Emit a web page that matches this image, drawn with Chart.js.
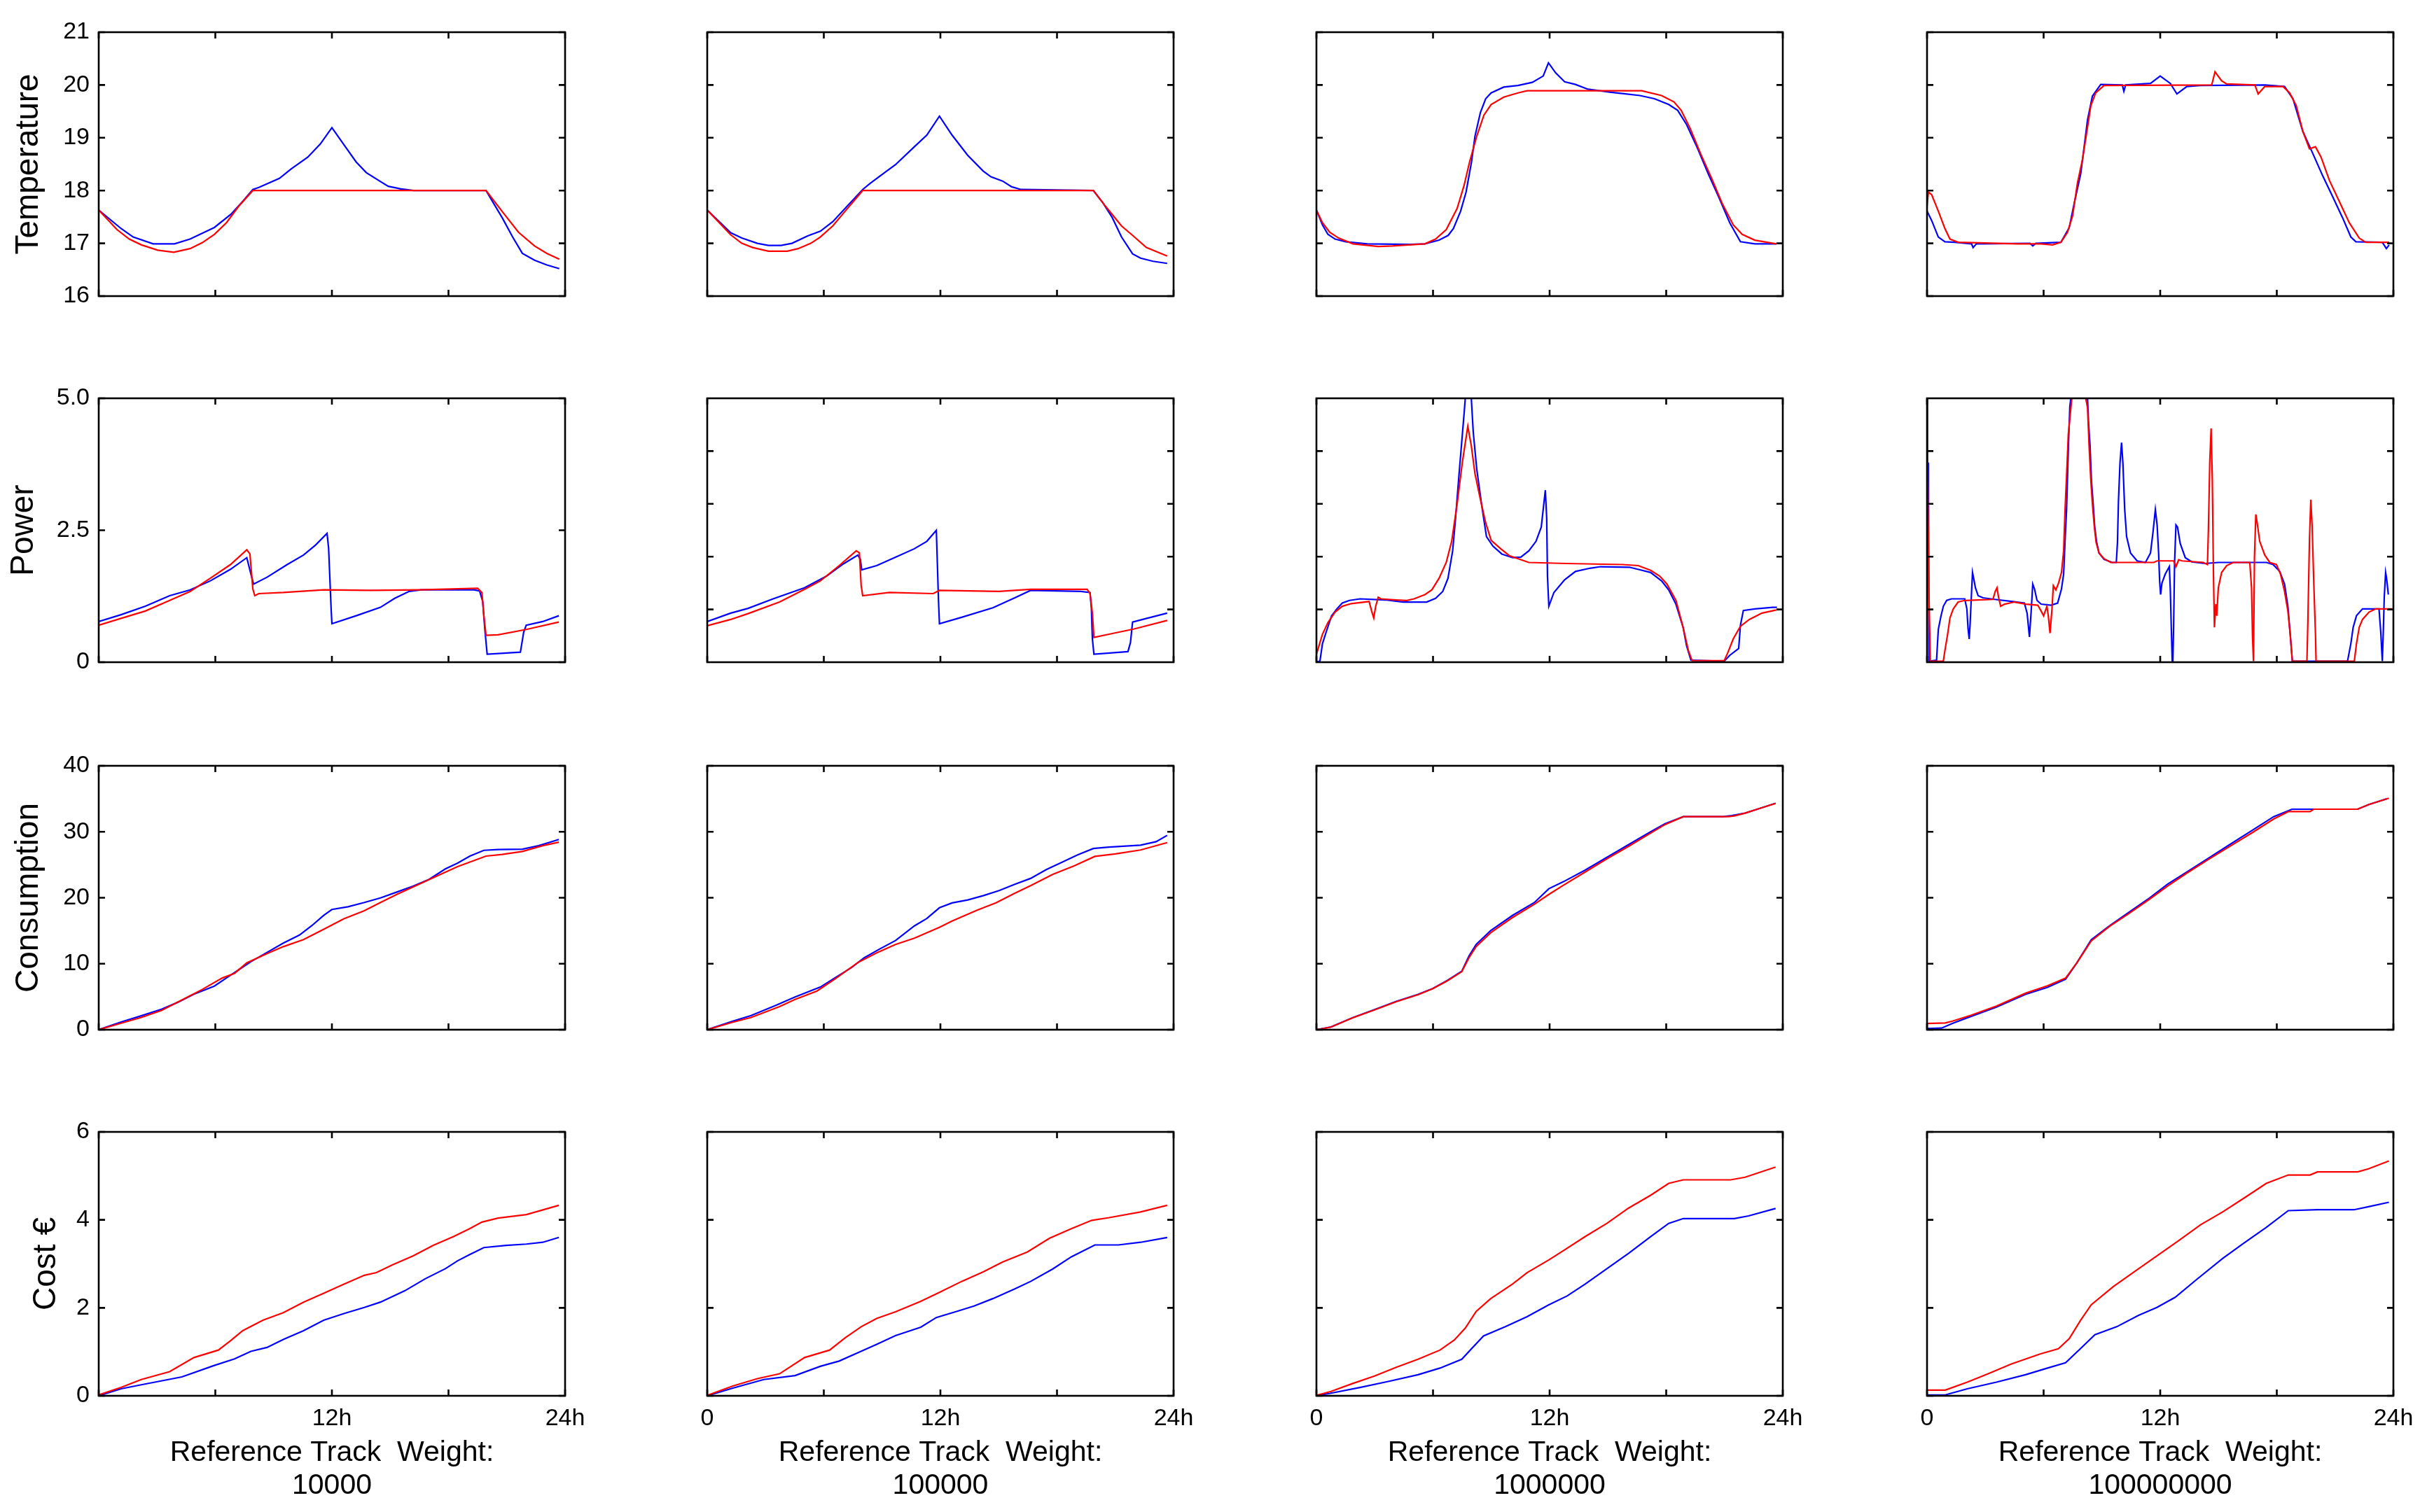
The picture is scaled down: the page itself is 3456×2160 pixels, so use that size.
<!DOCTYPE html>
<html>
<head>
<meta charset="utf-8">
<script src="https://cdn.jsdelivr.net/npm/chart.js@4/dist/chart.umd.min.js"></script>
<style>
  html, body { margin: 0; padding: 0; background: #fff; overflow: hidden; }
  body { width: 3456px; height: 2160px; position: relative; }
  canvas { position: absolute; }
</style>
</head>
<body>
<script>
// ---------------- DATA (time in hours, value) ----------------
const weightLabels = ['10000', '100000', '1000000', '100000000'];
const rowTitles = ['Temperature', 'Power', 'Consumption', 'Cost €'];
const hourTicks = [0, 6, 12, 18, 24];
const hourLabelValues = [0, 12, 24];
const hourLabelTexts = ['0', '12h', '24h'];

const tempLabelValues = [16, 17, 18, 19, 20, 21];
const tempLabelTexts = ['16', '17', '18', '19', '20', '21'];
const powerLabelValues = [0, 2.5, 5];
const powerLabelTexts = ['0', '2.5', '5.0'];
const powerMinorTicks = [1, 2, 3, 4];
const consLabelValues = [0, 10, 20, 30, 40];
const consLabelTexts = ['0', '10', '20', '30', '40'];
const costLabelValues = [0, 2, 4, 6];
const costLabelTexts = ['0', '2', '4', '6'];

// Temperature
const tempW1Blue = [[0,17.63],[1.15,17.28],[1.77,17.12],[2.8,16.99],[3.9,16.99],[4.7,17.08],[5.95,17.3],[6.8,17.55],[7.4,17.79],[7.93,18.02],[8.24,18.06],[9.3,18.23],[9.9,18.41],[10.75,18.63],[11.4,18.88],[12.0,19.19],[12.73,18.81],[13.25,18.54],[13.77,18.34],[14.5,18.17],[14.9,18.08],[15.55,18.03],[16.2,18.0],[19.93,18.0],[20.77,17.48],[21.3,17.12],[21.8,16.81],[22.43,16.68],[23.06,16.59],[23.7,16.52]];
const tempW1Red = [[0,17.63],[0.94,17.26],[1.57,17.08],[2.2,16.97],[3.03,16.87],[3.86,16.83],[4.7,16.9],[5.32,17.01],[5.95,17.17],[6.57,17.39],[7.2,17.7],[7.93,18.0],[19.93,18.0],[20.77,17.6],[21.6,17.21],[22.43,16.95],[23.06,16.81],[23.7,16.7]];
const tempW2Blue = [[0,17.63],[1.21,17.2],[1.78,17.1],[2.58,17.0],[3.15,16.96],[3.8,16.96],[4.36,17.0],[5.17,17.14],[5.82,17.23],[6.46,17.41],[7.27,17.73],[8.0,18.02],[8.4,18.14],[9.2,18.36],[9.69,18.49],[10.66,18.83],[11.3,19.05],[11.95,19.41],[12.6,19.05],[13.4,18.67],[14.2,18.37],[14.6,18.26],[15.2,18.18],[15.67,18.07],[16.15,18.02],[19.87,18.0],[20.36,17.77],[20.84,17.49],[21.32,17.12],[21.89,16.8],[22.3,16.72],[22.94,16.66],[23.67,16.62]];
const tempW2Red = [[0,17.63],[1.21,17.16],[1.78,17.0],[2.34,16.92],[3.15,16.85],[4.12,16.85],[4.68,16.9],[5.33,17.0],[5.82,17.12],[6.46,17.33],[7.1,17.61],[8.0,18.0],[19.87,18.0],[20.5,17.7],[21.32,17.33],[21.89,17.15],[22.6,16.92],[23.67,16.76]];
const tempW3Blue = [[0,17.63],[0.31,17.35],[0.59,17.17],[0.96,17.08],[1.51,17.03],[2.62,16.99],[4.84,16.98],[5.58,16.99],[6.31,17.06],[6.78,17.15],[7.05,17.28],[7.42,17.61],[7.7,17.97],[7.98,18.54],[8.16,19.03],[8.44,19.48],[8.71,19.74],[8.99,19.85],[9.64,19.96],[10.37,19.99],[11.11,20.05],[11.67,20.17],[11.94,20.42],[12.31,20.23],[12.77,20.06],[13.33,20.01],[13.97,19.92],[15.17,19.86],[15.91,19.83],[16.65,19.8],[17.39,19.74],[18.13,19.63],[18.59,19.52],[19.05,19.25],[19.6,18.81],[20.16,18.32],[20.7,17.88],[21.27,17.39],[21.82,17.03],[22.56,16.99],[23.67,16.99]];
const tempW3Red = [[0,17.63],[0.31,17.39],[0.68,17.21],[1.14,17.1],[1.88,16.99],[3.18,16.94],[3.91,16.95],[5.58,16.99],[6.13,17.08],[6.68,17.26],[7.24,17.66],[7.6,18.1],[7.88,18.54],[8.25,19.03],[8.62,19.43],[8.99,19.63],[9.64,19.77],[10.37,19.85],[10.84,19.89],[16.74,19.89],[17.76,19.8],[18.4,19.68],[18.77,19.52],[19.24,19.17],[19.79,18.68],[20.34,18.23],[20.9,17.74],[21.45,17.35],[21.91,17.17],[22.56,17.06],[23.67,16.99]];
const tempW4Blue = [[0,17.61],[0.24,17.43],[0.58,17.12],[0.92,17.03],[1.43,17.02],[2.29,16.99],[2.37,16.92],[2.54,16.99],[5.3,17.0],[5.44,16.95],[5.6,17.0],[6.89,17.02],[7.32,17.3],[7.57,17.75],[7.91,18.32],[8.26,19.34],[8.51,19.79],[8.94,20.01],[10.05,20.0],[10.13,19.88],[10.22,20.0],[11.5,20.03],[12.0,20.17],[12.52,20.03],[12.86,19.83],[13.37,19.97],[14.05,19.99],[17.38,20.0],[18.4,19.97],[18.83,19.74],[19.34,19.12],[19.77,18.77],[20.36,18.28],[20.88,17.88],[21.39,17.48],[21.81,17.12],[22.07,17.03],[23.43,17.02],[23.64,16.9],[23.78,16.97]];
const tempW4Red = [[0,17.7],[0.07,17.97],[0.24,17.92],[0.58,17.61],[0.92,17.28],[1.18,17.08],[1.6,17.02],[4.67,16.99],[5.87,16.99],[6.46,16.97],[6.89,17.02],[7.23,17.21],[7.49,17.52],[7.74,18.14],[8.0,18.59],[8.17,18.99],[8.43,19.61],[8.68,19.85],[9.11,19.99],[14.65,20.0],[14.82,20.25],[15.16,20.08],[15.42,20.02],[16.87,20.0],[17.04,19.83],[17.38,19.97],[18.32,19.97],[18.66,19.85],[19.0,19.61],[19.34,19.12],[19.68,18.79],[19.99,18.83],[20.28,18.63],[20.71,18.19],[21.22,17.79],[21.73,17.39],[22.24,17.1],[22.58,17.02],[23.78,17.02]];

// Power
const powerW1Blue = [[0,0.77],[1.15,0.9],[2.4,1.06],[3.65,1.26],[4.7,1.37],[5.74,1.54],[6.78,1.76],[7.62,1.98],[7.83,1.67],[7.97,1.48],[8.66,1.61],[9.7,1.85],[10.54,2.03],[11.16,2.22],[11.75,2.44],[11.83,2.16],[11.96,1.01],[12.0,0.73],[13.25,0.88],[14.5,1.04],[15.23,1.21],[15.96,1.34],[16.59,1.37],[19.3,1.37],[19.6,1.35],[19.76,1.15],[19.87,0.62],[19.99,0.15],[21.7,0.19],[21.87,0.57],[22.0,0.7],[22.85,0.77],[23.68,0.88]];
const powerW1Red = [[0,0.7],[1.15,0.83],[2.4,0.97],[3.65,1.17],[4.7,1.34],[5.74,1.59],[6.78,1.85],[7.62,2.13],[7.78,2.05],[7.93,1.39],[8.03,1.26],[8.24,1.3],[9.5,1.32],[11.58,1.37],[14.0,1.36],[16.5,1.37],[19.5,1.4],[19.72,1.32],[19.82,0.88],[19.93,0.51],[20.55,0.52],[22.0,0.62],[23.68,0.76]];
const powerW2Blue = [[0,0.77],[1.21,0.93],[2.1,1.02],[3.39,1.2],[5.0,1.41],[6.14,1.63],[6.95,1.85],[7.75,2.03],[7.88,1.95],[7.95,1.75],[8.72,1.83],[9.69,1.99],[10.66,2.15],[11.3,2.29],[11.79,2.5],[11.83,2.03],[11.9,1.18],[11.95,0.73],[13.09,0.85],[14.7,1.03],[15.83,1.22],[16.64,1.36],[19.22,1.34],[19.7,1.32],[19.77,1.02],[19.82,0.45],[19.9,0.15],[21.65,0.2],[21.78,0.37],[21.89,0.76],[22.62,0.83],[23.67,0.93]];
const powerW2Red = [[0,0.69],[1.21,0.81],[2.1,0.92],[3.72,1.14],[5.0,1.38],[5.82,1.54],[6.79,1.83],[7.67,2.11],[7.83,2.07],[7.92,1.46],[8.0,1.26],[9.37,1.32],[11.63,1.3],[11.95,1.36],[15.0,1.34],[16.64,1.38],[19.55,1.38],[19.7,1.3],[19.82,0.93],[19.9,0.47],[20.68,0.53],[21.97,0.63],[23.67,0.79]];
const powerW3Blue = [[0,0.01],[0.18,0.02],[0.31,0.35],[0.5,0.57],[0.78,0.88],[1.05,1.01],[1.33,1.12],[1.7,1.17],[2.25,1.2],[3.54,1.18],[4.47,1.14],[5.67,1.14],[6.13,1.21],[6.5,1.34],[6.77,1.59],[7.01,2.11],[7.14,2.64],[7.33,3.52],[7.61,4.76],[7.66,5.0],[7.97,5.0],[8.07,4.36],[8.25,3.66],[8.53,2.91],[8.75,2.38],[9.08,2.2],[9.54,2.05],[10.1,1.98],[10.52,1.99],[10.93,2.11],[11.3,2.29],[11.57,2.56],[11.78,3.26],[11.85,2.73],[11.89,1.63],[11.96,1.06],[12.22,1.32],[12.77,1.56],[13.33,1.72],[14.07,1.78],[14.62,1.81],[16.1,1.8],[16.65,1.75],[17.2,1.7],[17.76,1.54],[18.13,1.37],[18.5,1.1],[18.87,0.66],[19.05,0.31],[19.27,0.04],[20.99,0.02],[21.27,0.13],[21.73,0.26],[21.82,0.7],[21.97,0.98],[22.56,1.01],[23.48,1.04],[23.7,1.04]];
const powerW3Red = [[0,0.15],[0.13,0.31],[0.31,0.53],[0.59,0.75],[0.96,0.95],[1.33,1.06],[1.79,1.11],[2.71,1.15],[2.84,0.97],[2.95,0.84],[3.05,1.06],[3.18,1.23],[3.32,1.2],[4.1,1.18],[4.65,1.17],[5.02,1.2],[5.58,1.28],[5.94,1.37],[6.31,1.59],[6.68,1.89],[6.96,2.29],[7.24,3.0],[7.51,3.79],[7.79,4.47],[7.97,4.1],[8.16,3.57],[8.44,3.08],[8.71,2.64],[8.99,2.31],[9.45,2.16],[9.92,2.02],[10.93,1.89],[12.87,1.87],[15.73,1.85],[16.56,1.83],[17.2,1.74],[17.67,1.63],[18.04,1.48],[18.5,1.17],[18.87,0.66],[19.14,0.22],[19.33,0.03],[20.99,0.03],[21.17,0.18],[21.45,0.44],[21.82,0.68],[22.28,0.81],[22.93,0.93],[23.67,0.99]];
const powerW4Blue = [[0,3.77],[0.07,3.77],[0.1,0.02],[0.49,0.04],[0.58,0.62],[0.72,0.88],[0.84,1.06],[1.01,1.17],[1.26,1.2],[1.94,1.2],[2.05,1.01],[2.11,0.64],[2.17,0.44],[2.22,0.75],[2.29,1.32],[2.34,1.7],[2.4,1.59],[2.49,1.41],[2.63,1.26],[2.88,1.22],[3.48,1.19],[4.42,1.15],[5.01,1.12],[5.15,0.93],[5.27,0.48],[5.36,0.97],[5.44,1.48],[5.53,1.39],[5.66,1.17],[5.87,1.1],[6.38,1.08],[6.72,1.12],[6.92,1.39],[7.03,1.67],[7.1,2.27],[7.18,2.89],[7.23,3.52],[7.28,4.14],[7.35,4.85],[7.4,5.0],[8.26,5.0],[8.31,4.54],[8.39,4.1],[8.46,3.44],[8.55,3.0],[8.63,2.56],[8.73,2.27],[8.85,2.07],[9.11,1.95],[9.53,1.89],[9.74,1.89],[9.8,2.27],[9.85,3.04],[9.93,3.77],[10.01,4.16],[10.08,3.77],[10.17,2.91],[10.27,2.38],[10.47,2.07],[10.81,1.92],[11.24,1.89],[11.5,2.07],[11.63,2.47],[11.75,2.89],[11.84,2.6],[11.92,2.05],[11.97,1.54],[12.02,1.28],[12.09,1.5],[12.26,1.67],[12.47,1.81],[12.52,1.37],[12.57,0.66],[12.62,0.0],[12.65,0.0],[12.69,0.7],[12.74,1.89],[12.81,2.6],[12.89,2.56],[13.03,2.25],[13.29,1.98],[13.63,1.9],[14.31,1.87],[14.99,1.89],[17.47,1.89],[17.81,1.85],[18.15,1.72],[18.4,1.48],[18.57,1.06],[18.69,0.53],[18.8,0.02],[21.64,0.02],[21.81,0.35],[21.93,0.66],[22.1,0.88],[22.41,1.01],[23.26,1.01],[23.35,0.57],[23.43,0.02],[23.48,0.57],[23.53,1.23],[23.6,1.7],[23.65,1.59],[23.74,1.28]];
const powerW4Red = [[0,5.0],[0.03,3.77],[0.1,1.26],[0.17,0.02],[0.84,0.02],[0.92,0.22],[1.06,0.53],[1.18,0.84],[1.35,1.01],[1.6,1.14],[1.94,1.17],[3.39,1.19],[3.51,1.34],[3.6,1.41],[3.68,1.23],[3.79,1.06],[3.99,1.1],[4.5,1.14],[5.1,1.1],[5.7,1.08],[5.87,0.97],[6.0,0.88],[6.17,1.06],[6.24,0.88],[6.33,0.55],[6.43,1.01],[6.5,1.45],[6.63,1.37],[6.77,1.5],[6.92,1.7],[7.03,2.11],[7.1,2.86],[7.18,3.52],[7.27,4.32],[7.45,5.0],[8.17,5.0],[8.26,4.82],[8.34,4.1],[8.43,3.44],[8.51,3.0],[8.6,2.6],[8.7,2.27],[8.85,2.07],[9.11,1.96],[9.45,1.89],[11.67,1.89],[11.84,1.92],[12.69,1.92],[12.81,1.81],[12.95,1.94],[13.12,1.92],[14.22,1.89],[14.43,1.85],[14.48,2.51],[14.55,3.79],[14.62,4.43],[14.68,3.48],[14.74,1.67],[14.79,0.66],[14.86,1.1],[14.91,0.88],[14.99,1.41],[15.16,1.7],[15.42,1.83],[15.76,1.89],[16.61,1.89],[16.7,1.41],[16.75,0.48],[16.8,0.02],[16.85,1.98],[16.92,2.8],[16.99,2.64],[17.12,2.29],[17.38,2.03],[17.64,1.89],[17.98,1.85],[18.19,1.67],[18.4,1.34],[18.57,0.97],[18.69,0.53],[18.8,0.02],[19.55,0.02],[19.6,0.79],[19.68,2.31],[19.75,3.08],[19.82,2.56],[19.9,1.54],[19.99,0.53],[20.02,0.02],[21.99,0.02],[22.1,0.35],[22.24,0.66],[22.41,0.81],[22.75,0.95],[23.1,1.01],[23.95,1.01]];

// Consumption
const consW1Blue = [[0,0],[1.15,1.16],[2.19,2.11],[3.23,3.1],[4.07,4.15],[4.9,5.38],[5.95,6.61],[6.57,7.84],[7.2,9.07],[7.83,10.31],[8.66,11.71],[9.5,13.12],[10.33,14.35],[10.96,15.76],[11.58,17.34],[12.0,18.22],[12.83,18.64],[13.67,19.28],[14.5,19.98],[15.34,20.86],[16.17,21.74],[17.0,22.79],[17.84,24.38],[18.47,25.26],[19.1,26.31],[19.82,27.19],[20.55,27.3],[21.8,27.37],[22.64,27.89],[23.68,28.84]];
const consW1Red = [[0,0],[1.15,0.98],[2.19,1.86],[3.23,2.92],[4.28,4.5],[5.32,6.09],[6.36,7.84],[6.99,8.55],[7.62,10.13],[8.66,11.54],[9.5,12.59],[10.54,13.65],[11.58,15.23],[12.62,16.81],[13.67,18.04],[14.5,19.28],[15.34,20.51],[16.38,21.91],[17.42,23.32],[18.47,24.73],[19.93,26.31],[20.76,26.56],[21.8,27.01],[22.85,27.89],[23.68,28.42]];
const consW2Blue = [[0,0],[1.29,1.26],[2.26,2.15],[3.55,3.71],[4.52,4.97],[5.82,6.46],[6.62,7.94],[7.43,9.42],[8.08,10.91],[8.88,12.24],[9.69,13.51],[10.66,15.73],[11.3,16.85],[11.95,18.48],[12.6,19.22],[13.41,19.67],[14.22,20.33],[15.02,21.08],[15.83,22.04],[16.64,22.93],[17.45,24.27],[18.26,25.38],[19.06,26.49],[19.87,27.46],[20.68,27.68],[22.3,27.98],[23.1,28.5],[23.67,29.46]];
const consW2Red = [[0,0],[1.29,1.11],[2.26,1.86],[3.72,3.49],[4.52,4.6],[5.65,5.86],[6.62,7.79],[7.75,10.17],[8.72,11.65],[9.69,12.91],[10.66,13.88],[11.95,15.51],[12.6,16.47],[13.89,18.11],[14.86,19.22],[15.83,20.7],[16.64,21.82],[17.77,23.53],[18.9,24.86],[19.95,26.27],[21.0,26.64],[22.3,27.24],[23.67,28.35]];
const consW3Blue = [[0,0],[0.75,0.42],[1.87,1.83],[2.99,3.06],[4.11,4.3],[5.23,5.35],[5.98,6.23],[6.73,7.46],[7.48,8.87],[7.85,11.16],[8.22,12.92],[8.97,15.04],[10.09,17.32],[11.21,19.26],[11.96,21.37],[12.71,22.43],[13.83,24.19],[14.95,26.13],[16.07,28.06],[17.2,30.0],[17.94,31.23],[18.88,32.29],[20.93,32.29],[21.38,32.46],[22.06,32.82],[22.8,33.52],[23.63,34.33]];
const consW3Red = [[0,0],[0.75,0.4],[1.87,1.8],[2.99,3.0],[4.11,4.25],[5.23,5.3],[5.98,6.2],[6.73,7.4],[7.48,8.8],[7.85,10.9],[8.22,12.6],[8.97,14.7],[10.09,17.0],[11.21,19.0],[11.96,20.5],[12.71,21.9],[13.83,23.9],[14.95,25.9],[16.07,27.8],[17.2,29.8],[17.94,31.1],[18.88,32.29],[21.2,32.29],[21.5,32.4],[22.06,32.82],[22.8,33.52],[23.63,34.3]];
const consW4Blue = [[0,0.18],[0.75,0.25],[1.31,0.95],[2.25,2.0],[3.57,3.42],[5.07,5.35],[6.2,6.41],[7.13,7.64],[7.7,10.1],[8.45,13.63],[9.39,15.74],[10.33,17.68],[11.45,19.96],[12.39,22.08],[13.33,23.84],[14.46,25.95],[15.58,28.06],[16.71,30.18],[17.84,32.29],[18.78,33.42],[22.16,33.42],[22.72,34.12],[23.66,35.0]];
const consW4Red = [[0,0.95],[0.94,1.02],[1.31,1.3],[2.25,2.18],[3.57,3.59],[5.07,5.53],[6.2,6.65],[7.13,7.82],[7.7,10.1],[8.45,13.45],[9.39,15.67],[10.33,17.5],[11.45,19.79],[12.39,21.8],[13.33,23.66],[14.46,25.77],[15.58,27.78],[16.71,29.82],[17.84,31.94],[18.59,33.06],[19.71,33.06],[19.9,33.42],[22.16,33.42],[22.72,34.12],[23.77,35.1]];

// Cost €
const costW1Blue = [[0,0],[1.15,0.16],[2.19,0.25],[4.28,0.43],[5.95,0.69],[6.99,0.84],[7.83,1.01],[8.66,1.1],[9.5,1.28],[10.54,1.48],[11.58,1.72],[12.62,1.87],[13.67,2.01],[14.5,2.13],[15.76,2.39],[16.8,2.66],[17.84,2.89],[18.47,3.07],[19.09,3.21],[19.82,3.37],[20.97,3.42],[22.01,3.45],[22.85,3.49],[23.68,3.6]];
const costW1Red = [[0,0.02],[1.15,0.19],[2.19,0.37],[3.65,0.55],[4.9,0.87],[6.16,1.04],[6.78,1.25],[7.41,1.48],[8.45,1.72],[9.5,1.89],[10.54,2.13],[11.58,2.33],[12.62,2.54],[13.67,2.74],[14.29,2.8],[15.13,2.98],[16.17,3.18],[17.22,3.42],[18.26,3.62],[19.09,3.8],[19.72,3.95],[20.55,4.04],[22.01,4.12],[23.68,4.33]];
const costW2Blue = [[0,0],[1.29,0.17],[2.91,0.37],[4.52,0.46],[5.82,0.67],[6.79,0.79],[7.75,0.98],[8.72,1.17],[9.69,1.37],[10.99,1.56],[11.79,1.78],[12.92,1.93],[13.73,2.04],[14.7,2.21],[15.83,2.43],[16.64,2.6],[17.77,2.88],[18.74,3.16],[19.95,3.43],[21.16,3.43],[22.3,3.49],[23.67,3.6]];
const costW2Red = [[0,0.01],[1.29,0.22],[2.58,0.39],[3.72,0.5],[5.01,0.87],[6.3,1.04],[7.1,1.32],[7.92,1.57],[8.72,1.76],[9.69,1.91],[10.99,2.15],[11.95,2.35],[13.09,2.6],[14.22,2.82],[15.19,3.04],[16.48,3.27],[17.61,3.58],[18.74,3.8],[19.79,3.99],[20.68,4.05],[22.3,4.18],[23.67,4.33]];
const costW3Blue = [[0,0],[0.75,0.06],[2.24,0.19],[3.74,0.33],[5.23,0.48],[6.36,0.63],[7.48,0.83],[8.04,1.1],[8.6,1.36],[9.72,1.57],[10.84,1.8],[11.96,2.07],[12.9,2.27],[13.83,2.54],[14.95,2.89],[16.07,3.24],[17.2,3.62],[18.13,3.92],[18.88,4.03],[21.5,4.03],[22.24,4.09],[23.63,4.26]];
const costW3Red = [[0,0.01],[0.75,0.1],[1.87,0.28],[2.99,0.45],[4.11,0.65],[5.23,0.83],[6.36,1.04],[7.1,1.27],[7.66,1.54],[8.22,1.92],[8.97,2.21],[10.09,2.54],[10.84,2.8],[11.96,3.09],[12.71,3.3],[13.83,3.62],[14.95,3.92],[16.07,4.27],[17.2,4.56],[18.13,4.83],[18.88,4.91],[21.31,4.91],[22.06,4.97],[23.63,5.2]];
const costW4Blue = [[0,0.02],[0.94,0.02],[2.07,0.16],[3.57,0.31],[5.07,0.48],[6.2,0.63],[7.13,0.75],[7.89,1.07],[8.64,1.39],[9.76,1.57],[10.89,1.83],[11.83,2.01],[12.77,2.24],[13.89,2.65],[15.21,3.12],[16.33,3.48],[17.46,3.83],[18.59,4.21],[20.09,4.23],[21.97,4.23],[22.72,4.3],[23.77,4.4]];
const costW4Red = [[0,0.13],[0.94,0.13],[2.07,0.31],[3.19,0.51],[4.32,0.72],[5.82,0.95],[6.76,1.07],[7.32,1.3],[7.89,1.71],[8.45,2.07],[9.58,2.48],[10.7,2.83],[11.83,3.18],[12.96,3.53],[14.08,3.89],[15.21,4.18],[16.33,4.5],[17.46,4.83],[18.59,5.02],[19.71,5.02],[20.09,5.09],[22.16,5.09],[22.72,5.16],[23.77,5.34]];

// ---------------- LAYOUT / STYLE ----------------
const colLeft = [141, 1010, 1880, 2752];
const rowTop = [46, 569, 1094, 1617];
const plotW = 666, plotH = 377;
const FONT = '"Liberation Sans", Arial, Helvetica, sans-serif';

const rows = [
  { min: 16, max: 21, labelValues: tempLabelValues, labelTexts: tempLabelTexts,
    tickSets: [tempLabelValues, tempLabelValues, tempLabelValues, tempLabelValues], titlePad: 14,
    series: [[tempW1Red, tempW1Blue], [tempW2Red, tempW2Blue], [tempW3Red, tempW3Blue], [tempW4Red, tempW4Blue]] },
  { min: 0, max: 5, labelValues: powerLabelValues, labelTexts: powerLabelTexts,
    tickSets: [powerLabelValues, powerMinorTicks, powerMinorTicks, powerMinorTicks], titlePad: 7,
    series: [[powerW1Red, powerW1Blue], [powerW2Red, powerW2Blue], [powerW3Red, powerW3Blue], [powerW4Red, powerW4Blue]] },
  { min: 0, max: 40, labelValues: consLabelValues, labelTexts: consLabelTexts,
    tickSets: [consLabelValues, consLabelValues, consLabelValues, consLabelValues], titlePad: 14,
    series: [[consW1Red, consW1Blue], [consW2Red, consW2Blue], [consW3Red, consW3Blue], [consW4Red, consW4Blue]] },
  { min: 0, max: 6, labelValues: costLabelValues, labelTexts: costLabelTexts,
    tickSets: [costLabelValues, costLabelValues, costLabelValues, costLabelValues], titlePad: 39,
    series: [[costW1Red, costW1Blue], [costW2Red, costW2Blue], [costW3Red, costW3Blue], [costW4Red, costW4Blue]] }
];

// Box frame + inward tick marks drawn through the chart's scales
const framePlugin = {
  id: 'frame',
  afterDatasetsDraw(chart, args, opts) {
    const { ctx, chartArea: a, scales } = chart;
    const x = scales.x, y = scales.y;
    const L = 9;
    ctx.save();
    ctx.strokeStyle = '#000';
    ctx.lineWidth = 2.6;
    ctx.beginPath();
    for (const t of opts.xTicks) {
      const px = x.getPixelForValue(t);
      ctx.moveTo(px, a.bottom); ctx.lineTo(px, a.bottom - L);
      ctx.moveTo(px, a.top); ctx.lineTo(px, a.top + L);
    }
    for (const v of opts.yTicks) {
      const py = y.getPixelForValue(v);
      ctx.moveTo(a.left, py); ctx.lineTo(a.left + L, py);
      ctx.moveTo(a.right, py); ctx.lineTo(a.right - L, py);
    }
    ctx.stroke();
    ctx.strokeRect(a.left, a.top, a.right - a.left, a.bottom - a.top);
    ctx.restore();
  }
};

const BOTTOM_H = 2160 - (rowTop[3] + plotH);

rows.forEach((row, r) => {
  for (let c = 0; c < 4; c++) {
    const padL = c === 0 ? 0 : 50;
    const cl = c === 0 ? 0 : colLeft[c] - 50;
    const cw = (c === 0 ? 141 : 50) + plotW + 50;
    const ct = rowTop[r] - 40;
    const ch = 40 + plotH + (r === 3 ? BOTTOM_H : 40);

    const canvas = document.createElement('canvas');
    canvas.width = cw; canvas.height = ch;
    canvas.style.left = cl + 'px'; canvas.style.top = ct + 'px';
    canvas.style.width = cw + 'px'; canvas.style.height = ch + 'px';
    document.body.appendChild(canvas);

    const [red, blue] = row.series[c];
    new Chart(canvas, {
      type: 'line',
      data: {
        datasets: [
          { data: red, borderColor: '#ff0000', borderWidth: 2.2, pointRadius: 0, tension: 0, fill: false },
          { data: blue, borderColor: '#0000ff', borderWidth: 2.2, pointRadius: 0, tension: 0, fill: false }
        ]
      },
      options: {
        responsive: false,
        animation: false,
        devicePixelRatio: 1,
        events: [],
        layout: { padding: { left: padL, right: 50, top: 40, bottom: r === 3 ? 0 : 40 } },
        plugins: {
          legend: { display: false },
          tooltip: { enabled: false },
          frame: { xTicks: hourTicks, yTicks: row.tickSets[c] }
        },
        scales: {
          x: {
            type: 'linear', min: 0, max: 24,
            display: r === 3,
            grid: { display: false, drawTicks: false },
            border: { display: false },
            afterBuildTicks: (s) => { s.ticks = hourLabelValues.map(v => ({ value: v })); },
            afterFit: (s) => { s.height = (r === 3) ? BOTTOM_H : 0; },
            ticks: {
              autoSkip: false, maxRotation: 0, minRotation: 0, padding: 12,
              color: '#000', font: { family: FONT, size: 34 },
              callback: (v) => (c === 0 && v === 0) ? '' : hourLabelTexts[hourLabelValues.indexOf(v)]
            },
            title: {
              display: true,
              text: ['Reference Track  Weight:', weightLabels[c]],
              color: '#000',
              font: { family: FONT, size: 41, lineHeight: 1.15 },
              padding: { top: 0, bottom: 14 }
            }
          },
          y: {
            type: 'linear', min: row.min, max: row.max,
            display: c === 0,
            grid: { display: false, drawTicks: false },
            border: { display: false },
            afterBuildTicks: (s) => { s.ticks = row.labelValues.map(v => ({ value: v })); },
            afterFit: (s) => { s.width = (c === 0) ? 141 : 0; },
            ticks: {
              autoSkip: false,
              padding: 13, color: '#000', font: { family: FONT, size: 34 },
              callback: (v) => row.labelTexts[row.labelValues.indexOf(v)]
            },
            title: {
              display: true, text: rowTitles[r], color: '#000',
              font: { family: FONT, size: 46, lineHeight: 1.2 },
              padding: { top: row.titlePad, bottom: 0 }
            }
          }
        }
      },
      plugins: [framePlugin]
    });
  }
});
</script>
</body>
</html>
